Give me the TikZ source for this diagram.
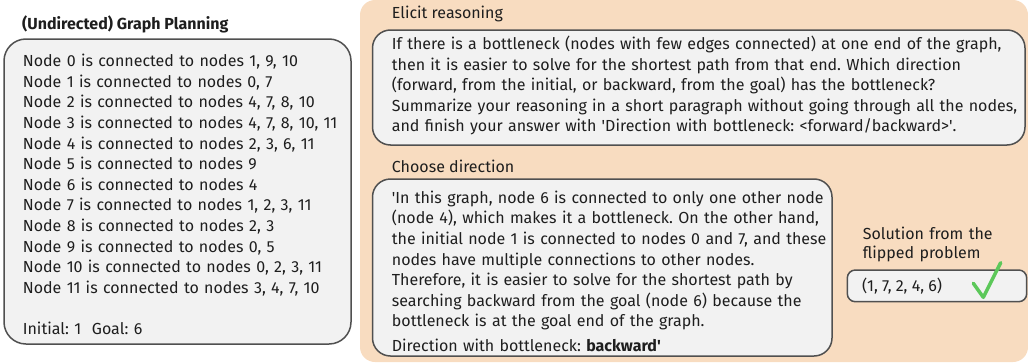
\documentclass[tikz,border=0pt]{standalone}
\usepackage{fontspec}
\setmainfont{Fira Sans}
\frenchspacing
\definecolor{peach}{HTML}{F8DCC0}
\definecolor{boxfill}{HTML}{F2F2F2}
\definecolor{boxline}{HTML}{505050}
\definecolor{txt}{HTML}{1E1E1E}
\definecolor{checkgreen}{HTML}{5CC85A}
\newcommand{\sq}{\textquotesingle}
\tikzset{
  panel/.style={draw=boxline, fill=boxfill, line width=1.5pt},
  body/.style={anchor=base west, inner sep=0pt, text width=700pt, align=left, text=txt,
    font=\fontsize{16}{20.6}\selectfont},
  head/.style={anchor=base west, inner sep=0pt, text=txt, font=\fontsize{16}{20.6}\selectfont},
}
\begin{document}
\begin{tikzpicture}[x=1pt,y=-1pt]
\useasboundingbox (0,0) rectangle (1028,364);
% orange background
\fill[peach, rounded corners=15pt] (360,0) rectangle (1028,362);
% left panel
\node[head, font=\fontsize{16}{20.6}\selectfont\bfseries] (title) at (22,29.3) {(Undirected) Graph Planning};
\draw[panel, rounded corners=22pt] (4,39) rectangle (351,344);
\node[body] (graph) at (22.7,66.7) {Node 0 is connected to nodes 1, 9, 10\\
Node 1 is connected to nodes 0, 7\\
Node 2 is connected to nodes 4, 7, 8, 10\\
Node 3 is connected to nodes 4, 7, 8, 10, 11\\
Node 4 is connected to nodes 2, 3, 6, 11\\
Node 5 is connected to nodes 9\\
Node 6 is connected to nodes 4\\
Node 7 is connected to nodes 1, 2, 3, 11\\
Node 8 is connected to nodes 2, 3\\
Node 9 is connected to nodes 0, 5\\
Node 10 is connected to nodes 0, 2, 3, 11\\
Node 11 is connected to nodes 3, 4, 7, 10\\[20.6pt]
Initial: 1\ \ Goal: 6};
% elicit reasoning
\node[head] (elicit) at (391.7,18.5) {Elicit reasoning};
\draw[panel, rounded corners=18pt] (372.5,30) rectangle (1025,145);
\node[body] (prompt) at (391.7,49.5) {If there is a bottleneck (nodes with few edges connected) at one end of the graph,\\
then it is easier to solve for the shortest path from that end. Which direction\\
(forward, from the initial, or backward, from the goal) has the bottleneck?\\
Summarize your reasoning in a short paragraph without going through all the nodes,\\
and finish your answer with \sq Direction with bottleneck: <forward/backward>\sq.};
% choose direction
\node[head] (choose) at (391.7,172) {Choose direction};
\draw[panel, rounded corners=18pt] (372.5,179) rectangle (832,356);
\node[body] (answer) at (391.7,203.3) {\sq In this graph, node 6 is connected to only one other node\\
(node 4), which makes it a bottleneck. On the other hand,\\
the initial node 1 is connected to nodes 0 and 7, and these\\
nodes have multiple connections to other nodes.\\
Therefore, it is easier to solve for the shortest path by\\
searching backward from the goal (node 6) because the\\
bottleneck is at the goal end of the graph.\\[3.7pt]
Direction with bottleneck: \textbf{backward\sq}};
% solution
\node[body] (soltitle) at (862.7,239.3) {Solution from the\\[-1.3pt]flipped problem};
\draw[panel, rounded corners=8pt] (847.3,270) rectangle (1026.7,301.7);
\node[head] (sol) at (862,291.7) {(1, 7, 2, 4, 6)};
\coordinate (c1) at (973.3,283.3);
\coordinate (c2) at (983.3,297.3);
\coordinate (c3) at (1000.7,262.7);
\draw[checkgreen, line width=3.5pt, line cap=round, line join=round] (c1) -- (c2) -- (c3);
\end{tikzpicture}
\end{document}
